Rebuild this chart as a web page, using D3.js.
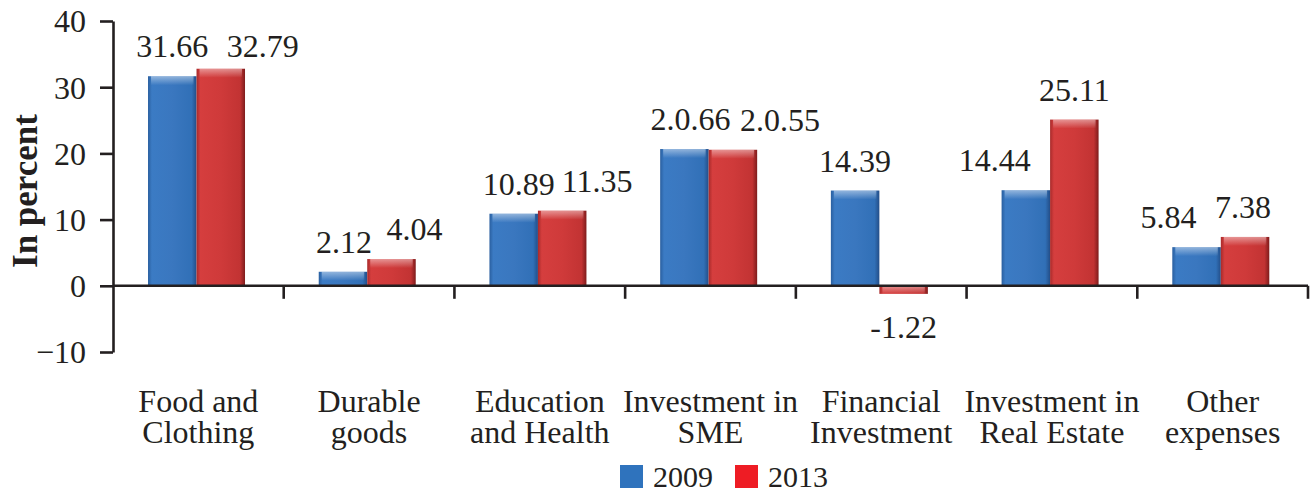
<!DOCTYPE html>
<html>
<head>
<meta charset="utf-8">
<script src="https://cdn.jsdelivr.net/npm/d3@7"></script>
</head>
<body style="margin:0">
<svg id="chart" width="1314" height="492" style="display:block;background:#fff"></svg>
<script>
// ---- data ----
const categories = ["Food and\nClothing", "Durable\ngoods", "Education\nand Health", "Investment in\nSME", "Financial\nInvestment", "Investment in\nReal Estate", "Other\nexpenses"];
const seriesNames = ["2009", "2013"];
const values2009 = [31.66, 2.12, 10.89, 20.66, 14.39, 14.44, 5.84];
const values2013 = [32.79, 4.04, 11.35, 20.55, -1.22, 25.11, 7.38];
const labels2009 = ["31.66", "2.12", "10.89", "2.0.66", "14.39", "14.44", "5.84"];
const labels2013 = ["32.79", "4.04", "11.35", "2.0.55", "-1.22", "25.11", "7.38"];
const yTicks = [-10, 0, 10, 20, 30, 40];
const yTitle = "In percent";

// ---- layout (label nudges, px) ----
const nudge2009 = [[0,0],[1,0],[5,0],[6,0],[0,0],[-31,0],[-28,0]];
const nudge2013 = [[42,7],[23,0],[35,0],[47,0],[0,0],[0,0],[-2,0]];

const FAM = "Liberation Serif";
const FONT = `'${FAM}'`;
// prime the font so it is resolved before the picture is taken
const ctx = document.createElement("canvas").getContext("2d");
["", "bold "].forEach(w => { ctx.font = `${w}32px ${FONT}`; ctx.measureText("Food and Clothing 0123456789.-"); });
if (document.fonts && document.fonts.load) {
  document.fonts.load(`32px ${FONT}`); document.fonts.load(`bold 35px ${FONT}`);
}

const svg = d3.select("#chart");
const textColor = "#231f20";

const y = d3.scaleLinear().domain([-10, 40]).range([352, 21]);
const x0 = d3.scaleBand().domain(categories).range([113, 1308]).padding(0);
const x1 = d3.scaleBand().domain(seriesNames).range([0, x0.bandwidth()]).paddingInner(0).paddingOuter(0.76).align(0.475);

// gradients
const defs = svg.append("defs");
function hGrad(id, stops) {
  const g = defs.append("linearGradient").attr("id", id).attr("x1", "0").attr("x2", "1").attr("y1", "0").attr("y2", "0");
  stops.forEach(s => g.append("stop").attr("offset", s[0]).attr("stop-color", s[1]));
}
hGrad("gBlue", [[0, "#2a5f9f"], [0.08, "#3b7bc4"], [0.5, "#3a77bf"], [0.9, "#3170b7"], [1, "#234e88"]]);
hGrad("gRed", [[0, "#a82a2a"], [0.08, "#d53e3e"], [0.5, "#cf3a3a"], [0.9, "#c23333"], [1, "#7e1c1c"]]);
const hl = defs.append("linearGradient").attr("id", "gHi").attr("x1", "0").attr("x2", "0").attr("y1", "0").attr("y2", "1");
hl.append("stop").attr("offset", 0).attr("stop-color", "#fff").attr("stop-opacity", 0.45);
hl.append("stop").attr("offset", 1).attr("stop-color", "#fff").attr("stop-opacity", 0);

const rows = categories.map((c, i) => ({
  cat: c,
  items: [
    { s: "2009", v: values2009[i], label: labels2009[i], fill: "url(#gBlue)", nd: nudge2009[i] },
    { s: "2013", v: values2013[i], label: labels2013[i], fill: "url(#gRed)", nd: nudge2013[i] }
  ]
}));

function setFont(sel, size, weight) {
  sel.attr("font-family", FONT).attr("font-size", size)
     .style("font-family", FONT).style("font-size", size + "px");
  if (weight) sel.attr("font-weight", weight).style("font-weight", weight);
  return sel;
}

// bars
const groups = svg.append("g").selectAll("g").data(rows).join("g")
  .attr("transform", d => `translate(${x0(d.cat)},0)`);

groups.selectAll("rect.bar").data(d => d.items).join("rect")
  .attr("class", "bar")
  .attr("x", d => x1(d.s))
  .attr("width", x1.bandwidth())
  .attr("y", d => y(Math.max(0, d.v)))
  .attr("height", d => Math.abs(y(d.v) - y(0)))
  .attr("fill", d => d.fill);

groups.selectAll("rect.hi").data(d => d.items).join("rect")
  .attr("class", "hi")
  .attr("x", d => x1(d.s) + 3)
  .attr("width", x1.bandwidth() - 6)
  .attr("y", d => y(Math.max(0, d.v)))
  .attr("height", d => Math.min(9, Math.abs(y(d.v) - y(0))))
  .attr("fill", "url(#gHi)");

// value labels
setFont(groups.selectAll("text.val").data(d => d.items).join("text")
  .attr("class", "val")
  .attr("x", d => x1(d.s) + x1.bandwidth() / 2 + d.nd[0])
  .attr("y", d => (d.v >= 0 ? y(d.v) - 19 : y(d.v) + 44) + d.nd[1])
  .attr("text-anchor", "middle")
  .attr("fill", textColor)
  .text(d => d.label), 32);

// y axis
const yAxis = svg.append("g").attr("transform", "translate(113,0)")
  .call(d3.axisLeft(y).tickValues(yTicks).tickSize(13).tickSizeOuter(0).tickPadding(14).tickFormat(d3.format("d")));
yAxis.attr("font-family", FONT).attr("font-size", 32);
yAxis.select(".domain").attr("stroke", textColor).attr("stroke-width", 2.6);
yAxis.selectAll(".tick line").attr("stroke", textColor).attr("stroke-width", 2.6);
setFont(yAxis.selectAll(".tick text").attr("fill", textColor).attr("dy", "0.34em"), 32);

// x axis
const xa = svg.append("g");
xa.append("line")
  .attr("x1", x0.range()[0]).attr("x2", x0.range()[1])
  .attr("y1", y(0)).attr("y2", y(0))
  .attr("stroke", textColor).attr("stroke-width", 2.6);
const bounds = categories.map(c => x0(c) + x0.bandwidth());
xa.selectAll("line.tk").data(bounds).join("line")
  .attr("class", "tk")
  .attr("x1", d => d).attr("x2", d => d)
  .attr("y1", y(0)).attr("y2", y(0) + 13)
  .attr("stroke", textColor).attr("stroke-width", 2.6);

// category labels (one text element per line)
const catLines = [];
categories.forEach(c => c.split("\n").forEach((t, i) => catLines.push({ c, t, i })));
setFont(svg.append("g").selectAll("text").data(catLines).join("text")
  .attr("x", d => x0(d.c) + x0.bandwidth() / 2)
  .attr("y", d => 412 + d.i * 31)
  .attr("text-anchor", "middle")
  .attr("fill", textColor)
  .text(d => d.t), 32);

// y title
setFont(svg.append("text")
  .attr("transform", "translate(37,191) rotate(-90)")
  .attr("text-anchor", "middle")
  .attr("fill", textColor)
  .text(yTitle), 35, "bold");

// legend
const legendColors = ["#2f73bd", "#ee1c24"];
const legendX = [620, 735];
const lg = svg.append("g").selectAll("g").data(seriesNames).join("g")
  .attr("transform", (d, i) => `translate(${legendX[i]},465)`);
lg.append("rect").attr("width", 23).attr("height", 23).attr("fill", (d, i) => legendColors[i]);
setFont(lg.append("text").attr("x", 33).attr("y", 22).attr("fill", textColor).text(d => d), 30);
</script>
</body>
</html>
